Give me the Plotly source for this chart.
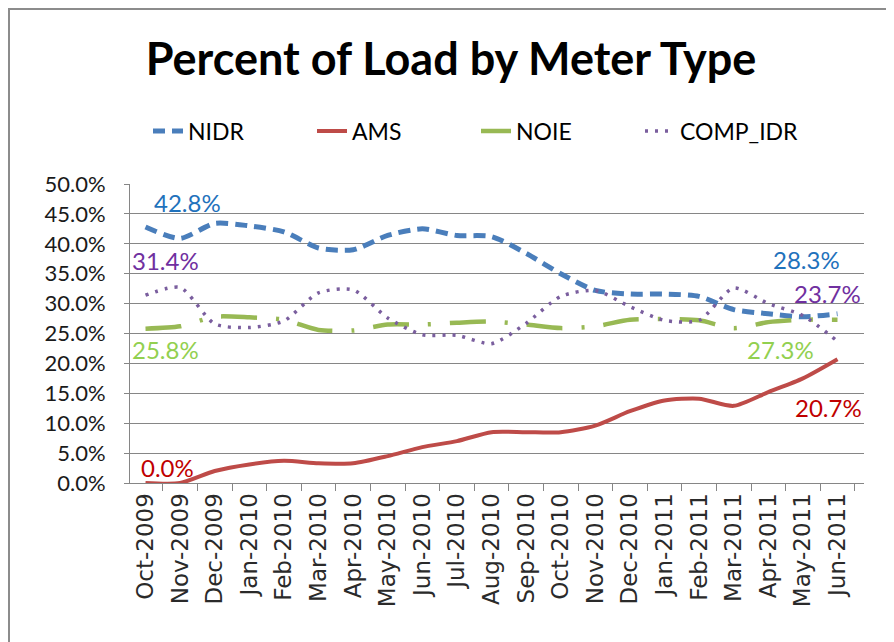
import plotly.graph_objects as go

months = ["Oct-2009", "Nov-2009", "Dec-2009", "Jan-2010", "Feb-2010", "Mar-2010", "Apr-2010",
          "May-2010", "Jun-2010", "Jul-2010", "Aug-2010", "Sep-2010", "Oct-2010", "Nov-2010",
          "Dec-2010", "Jan-2011", "Feb-2011", "Mar-2011", "Apr-2011", "May-2011", "Jun-2011"]

nidr = [42.8, 40.9, 43.4, 43.0, 42.0, 39.3, 39.0, 41.4, 42.5, 41.4, 41.2, 38.4, 35.0, 32.2,
        31.6, 31.6, 31.2, 29.0, 28.3, 27.8, 28.3]
ams = [0.0, 0.0, 2.0, 3.1, 3.7, 3.3, 3.3, 4.5, 6.0, 7.0, 8.5, 8.5, 8.5, 9.6,
       12.0, 13.8, 14.1, 12.9, 15.2, 17.5, 20.7]
noie = [25.8, 26.2, 27.8, 27.7, 27.3, 25.6, 25.5, 26.5, 26.5, 26.8, 27.0, 26.5, 25.9, 26.2,
        27.3, 27.4, 27.2, 25.9, 26.9, 27.3, 27.3]
comp_idr = [31.4, 32.7, 26.6, 26.0, 27.1, 31.8, 32.3, 27.6, 24.8, 24.7, 23.3, 26.7, 31.2, 32.2,
            29.5, 27.2, 27.2, 32.6, 30.0, 28.0, 23.7]

y_ticks = [0, 5, 10, 15, 20, 25, 30, 35, 40, 45, 50]

series = [
    ("NIDR", nidr, dict(color="#4A7EBB", width=5, dash="12px,7px")),
    ("AMS", ams, dict(color="#BE4B48", width=4)),
    ("NOIE", noie, dict(color="#98B954", width=4.5, dash="36px,19px,3px,19px")),
    ("COMP_IDR", comp_idr, dict(color="#7A5E9E", width=3.5, dash="3px,7px")),
]

fig = go.Figure()
for name, vals, ln in series:
    fig.add_trace(go.Scatter(x=months, y=vals, name=name, mode="lines",
                             line=dict(shape="spline", smoothing=0.7, **ln)))

# data labels: (series values, index, text colour, xshift, yshift)
labels = [
    (nidr, 0, "#1F72BC", 42, 25),
    (comp_idr, 0, "#7030A0", 20, 35),
    (noie, 0, "#92D050", 20, -21),
    (ams, 0, "#C00000", 22, 16),
    (nidr, 20, "#1F72BC", -31, 54),
    (comp_idr, 20, "#7030A0", -10, 48),
    (noie, 20, "#92D050", -57, -30),
    (ams, 20, "#C00000", -9, -48),
]
for vals, i, col, xs, ys in labels:
    fig.add_annotation(x=months[i], y=vals[i], text=f"{vals[i]:.1f}%", showarrow=False,
                       xshift=xs, yshift=ys, font=dict(family="Lato", size=24, color=col))

# figure geometry (page body adds an 8px offset)
W, H = 886, 634
L, T, PW, PH = 122, 176, 734, 299
PB = T + PH

# outer chart frame
fig.add_shape(type="rect", xref="paper", yref="paper",
              x0=(1 - L) / PW, x1=(880 - L) / PW,
              y0=(PB - 700) / PH, y1=(PB - 1) / PH,
              line=dict(color="#8C8C8C", width=2), fillcolor="rgba(0,0,0,0)", layer="below")

fig.update_layout(
    width=W, height=H,
    margin=dict(l=L, r=W - L - PW, t=T, b=H - PB),
    paper_bgcolor="white", plot_bgcolor="white",
    title=dict(text="<b>Percent of Load by Meter Type</b>", xref="container", yref="container",
               x=0.5, y=1 - 51 / H, xanchor="center", yanchor="middle",
               font=dict(family="Lato", size=45, color="black")),
    legend=dict(orientation="h", xref="paper", yref="paper",
                x=(140 - L) / PW, y=(PB - 123) / PH, xanchor="left", yanchor="middle",
                entrywidth=119, entrywidthmode="pixels",
                font=dict(family="Lato", size=23, color="black"), bgcolor="rgba(0,0,0,0)"),
    showlegend=True,
)
fig.update_xaxes(type="category", showgrid=False, showline=True, linecolor="#868686", linewidth=1,
                 ticks="outside", tickson="boundaries", ticklen=7, tickcolor="#868686",
                 tickangle=-90, tickfont=dict(family="DejaVu Sans", size=23, color="#2a2a2a"),
                 fixedrange=True)
fig.update_yaxes(range=[0, 50], tickvals=y_ticks, ticktext=[f"{v:.1f}%" for v in y_ticks],
                 showgrid=True, gridcolor="#868686", gridwidth=1, showline=True,
                 linecolor="#868686", linewidth=1, ticks="outside", ticklen=5, tickcolor="#868686",
                 ticklabelstandoff=14,
                 tickfont=dict(family="Lato", size=22, color="#1a1a1a"), zeroline=False)

fig.write_html("out.html")
